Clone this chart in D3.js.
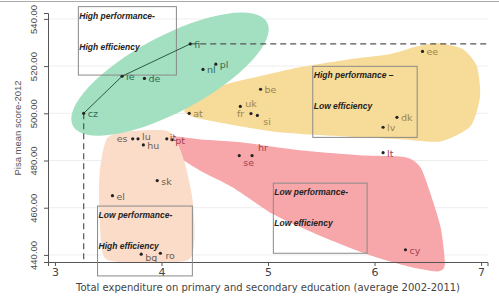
<!DOCTYPE html>
<meta charset="utf-8">
<style>
body { margin: 0; background: #fff; font-family: "DejaVu Sans", sans-serif; }
.lbl { font-size: 9.5px; }
.box text { font-family: "Liberation Sans", sans-serif; font-weight: bold; font-style: italic; font-size: 8.5px; fill: #222; }
</style>
<body>
<div id="chart"></div>
<script src="https://d3js.org/d3.v7.min.js"></script>
<script>

// country codes, spending (% GDP) and PISA score
const countries = ["cz","ie","de","fi","nl","pl","at","be","uk","fr","si","ee","dk","lv",
  "es","lu","hu","it","pt","hr","se","sk","el","bg","ro","lt","cy"];
const spending = [3.27,3.63,3.84,4.27,4.39,4.51,4.26,4.93,4.74,4.84,4.90,6.45,6.21,6.08,
  3.73,3.78,3.83,4.05,4.10,4.85,4.73,3.96,3.54,3.81,3.99,6.08,6.29];
const pisa = [500.0,515.7,514.8,529.4,518.6,520.8,500.0,510.2,502.9,499.9,499.1,526.2,498.3,494.1,
  489.2,489.2,486.6,489.2,488.8,482.1,482.1,471.5,465.1,440.3,440.7,483.3,442.2];
const group = ["hh","hh","hh","hh","hh","hh","hl","hl","hl","hl","hl","hl","hl","hl",
  "lh","lh","lh","ll","ll","ll","ll","lh","lh","lh","lh","ll","ll"];

const frontier = ["cz","ie","fi"];

const xTicks = [3,4,5,6,7];
const yTicks = [440,460,480,500,520,540];

// hand-drawn group blobs, in data units
const blobYellow = [[4.22,501.7],[4.55,511.4],[4.92,515.7],[5.30,519.5],[5.77,522.9],[6.14,525.0],[6.40,528.4],[6.61,529.7],[6.83,527.1],[6.96,519.9],[6.99,507.2],[6.90,494.5],[6.62,488.1],[6.24,489.0],[5.68,490.3],[5.11,492.0],[4.64,495.3],[4.31,498.3]];
const blobPink = [[4.10,489.8],[4.37,488.9],[4.74,487.7],[5.30,484.3],[5.86,482.2],[6.29,481.4],[6.43,477.1],[6.52,466.5],[6.62,451.7],[6.66,436.0],[6.59,433.0],[6.31,435.2],[5.93,440.3],[5.46,448.7],[5.05,457.2],[4.67,468.6],[4.36,475.8],[4.15,482.2]];
const blobPeach = [[3.49,489.4],[3.70,492.4],[4.03,492.8],[4.13,489.4],[4.22,478.8],[4.29,464.0],[4.31,448.3],[4.25,437.7],[3.80,436.9],[3.47,438.6],[3.42,455.5],[3.42,474.6]];
const ellipseGreen = {x: 4.08, y: 516.6};

const boxes = [
  {x0: 3.22, x1: 4.14, y0: 545.2, y1: 516.2, t1: "High performance-", t2: "High efficiency"},
  {x0: 5.42, x1: 6.40, y0: 519.9, y1: 489.8, t1: "High performance \u2013", t2: "Low efficiency"},
  {x0: 3.40, x1: 4.29, y0: 460.7, y1: 431.1, t1: "Low performance-", t2: "High efficiency"},
  {x0: 5.05, x1: 5.93, y0: 470.4, y1: 440.7, t1: "Low performance-", t2: "Low efficiency"}
];

const width = 499, height = 300;

const x = d3.scaleLinear().domain([2.935, 7.06]).range([48, 487.5]);
const y = d3.scaleLinear().domain([437, 542.5]).range([262, 13]);

const fills = {hh: "#a3dfc1", hl: "#f7db98", lh: "#fbdcc9", ll: "#f7a7aa"};
const labelColor = {hh: "#2f6c50", hl: "#9c8450", lh: "#6b5c52", ll: "#a2404e"};

// label placement: dx, dy relative to the dot
const labelPos = {
  es: [-16, 3], fr: [-14, 3], uk: [5, 1], si: [6, 10], se: [4, 10], hr: [6, -5],
  lu: [4, 1], it: [3, 2], pt: [3, 4], bg: [4, 7], ro: [5, 6]
};

const svg = d3.select("#chart").append("svg")
  .attr("width", width).attr("height", height);

svg.append("line")
  .attr("x1", 0).attr("x2", width).attr("y1", 1.5).attr("y2", 1.5)
  .attr("stroke", "#aaa").attr("stroke-width", 1);

// faint grid
svg.append("g").selectAll("line").data(yTicks).join("line")
  .attr("x1", x.range()[0]).attr("x2", x.range()[1])
  .attr("y1", d => y(d)).attr("y2", d => y(d))
  .attr("stroke", "#eeeeee").attr("stroke-width", 1);

const blob = d3.line().x(d => x(d[0])).y(d => y(d[1])).curve(d3.curveCardinalClosed.tension(0.3));

svg.append("path").attr("d", blob(blobYellow)).attr("fill", fills.hl);
svg.append("path").attr("d", blob(blobPink)).attr("fill", fills.ll);
svg.append("path").attr("d", blob(blobPeach)).attr("fill", fills.lh);
svg.append("ellipse")
  .attr("cx", x(ellipseGreen.x)).attr("cy", y(ellipseGreen.y))
  .attr("rx", 110).attr("ry", 38)
  .attr("transform", `rotate(-28 ${x(ellipseGreen.x)} ${y(ellipseGreen.y)})`)
  .attr("fill", fills.hh);

// axes
const xAxis = svg.append("g")
  .attr("transform", `translate(0,${y.range()[0]})`)
  .call(d3.axisBottom(x).tickValues(xTicks).tickSize(4).tickFormat(d3.format("d")));
xAxis.select(".domain").attr("stroke", "#555");
xAxis.selectAll(".tick line").attr("stroke", "#555");
xAxis.selectAll("text").attr("font-size", "11px").attr("fill", "#444")
  .attr("font-family", "DejaVu Sans").attr("dy", "0.6em");

const yAxis = svg.append("g")
  .attr("transform", `translate(${x.range()[0]},0)`)
  .call(d3.axisLeft(y).tickValues(yTicks).tickSize(4).tickFormat(d3.format(".2f")));
yAxis.select(".domain").attr("stroke", "#555");
yAxis.selectAll(".tick line").attr("stroke", "#555");
yAxis.selectAll("text")
  .attr("font-size", "9.5px").attr("fill", "#4a4a4a").attr("font-family", "Liberation Sans")
  .attr("text-anchor", "middle").attr("x", 0).attr("dy", 0)
  .attr("transform", "translate(-11,0) rotate(-90)");

svg.append("text")
  .attr("x", 268).attr("y", 291)
  .attr("text-anchor", "middle")
  .attr("font-size", "10px").attr("fill", "#444")
  .text("Total expenditure on primary and secondary education (average 2002-2011)");

svg.append("text")
  .attr("transform", "translate(21,128) rotate(-90)")
  .attr("text-anchor", "middle")
  .attr("font-family", "Liberation Sans")
  .attr("font-size", "9.5px").attr("fill", "#555")
  .text("Pisa mean score-2012");

// quadrant boxes
const bx = svg.append("g").attr("class", "box");
boxes.forEach(b => {
  bx.append("rect")
    .attr("x", x(b.x0)).attr("y", y(b.y0))
    .attr("width", x(b.x1) - x(b.x0)).attr("height", y(b.y1) - y(b.y0))
    .attr("fill", "none").attr("stroke", "#8a8a8a").attr("stroke-width", 1);
  bx.append("text").attr("x", x(b.x0) + 1).attr("y", y(b.y0) + 12).text(b.t1);
  bx.append("text").attr("x", x(b.x0) + 1).attr("y", y(b.y0) + 43).text(b.t2);
});

const data = countries.map((c, i) => ({c, x: spending[i], y: pisa[i], g: group[i]}));
const byCode = Object.fromEntries(data.map(d => [d.c, d]));

// efficiency frontier + reference lines
const fi = byCode.fi, cz = byCode.cz;
svg.append("line")
  .attr("x1", x(fi.x)).attr("x2", x.range()[1])
  .attr("y1", y(fi.y)).attr("y2", y(fi.y))
  .attr("stroke", "#555").attr("stroke-width", 1.2).attr("stroke-dasharray", "6,4");
svg.append("line")
  .attr("x1", x(cz.x)).attr("x2", x(cz.x))
  .attr("y1", y(cz.y)).attr("y2", y.range()[0])
  .attr("stroke", "#555").attr("stroke-width", 1.2).attr("stroke-dasharray", "6,4");
svg.append("path")
  .datum(frontier.map(c => byCode[c]))
  .attr("d", d3.line().x(d => x(d.x)).y(d => y(d.y)))
  .attr("fill", "none").attr("stroke", "#2d5a44").attr("stroke-width", 1);

svg.append("g").selectAll("circle").data(data).join("circle")
  .attr("cx", d => x(d.x)).attr("cy", d => y(d.y))
  .attr("r", 1.6).attr("fill", "#222");

svg.append("g").selectAll("text").data(data).join("text")
  .attr("class", "lbl")
  .attr("x", d => x(d.x) + (labelPos[d.c] ? labelPos[d.c][0] : 4))
  .attr("y", d => y(d.y) + (labelPos[d.c] ? labelPos[d.c][1] : 4))
  .attr("fill", d => labelColor[d.g])
  .text(d => d.c);

</script>
</body>
